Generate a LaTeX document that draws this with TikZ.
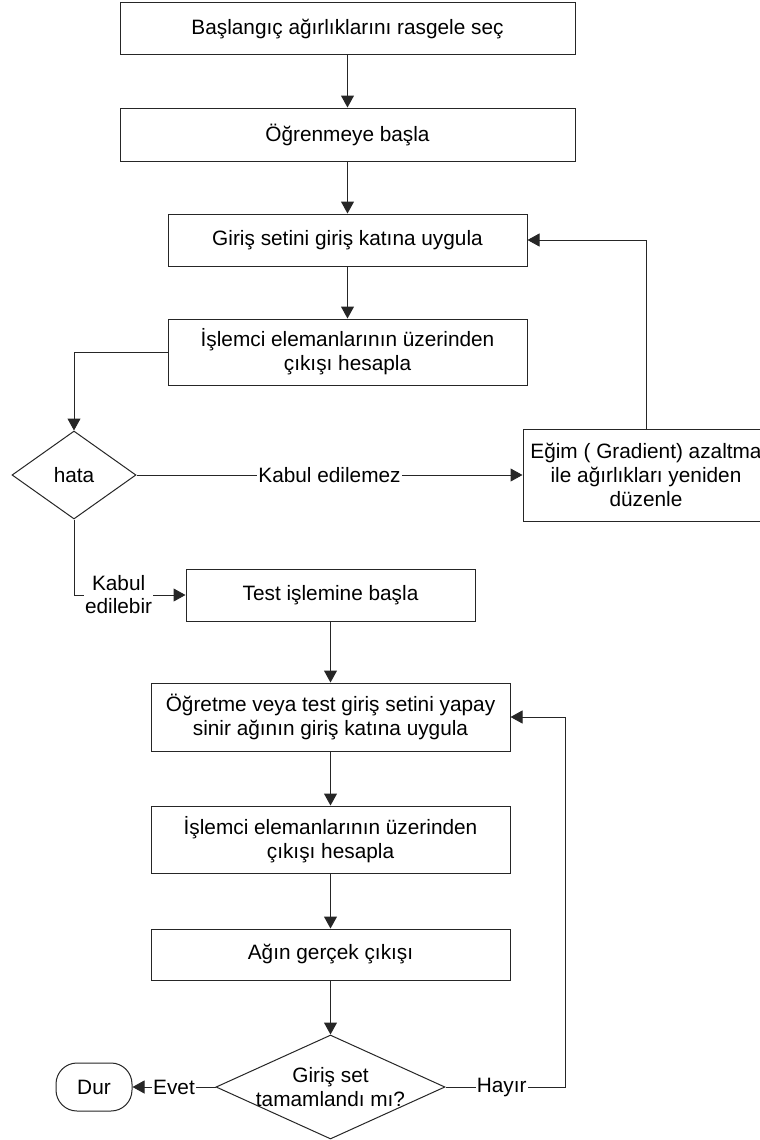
\documentclass[tikz,border=0pt]{standalone}
\usepackage{fontspec}
\setmainfont{Liberation Sans}
\usetikzlibrary{arrows.meta,shapes.geometric}

\tikzset{
  basefont/.style={font=\fontsize{20.8}{24}\selectfont},
  stepbox/.style={draw=black!85, line width=1pt, fill=white, rectangle,
    inner sep=0pt, align=center, basefont},
  decide/.style={draw=black!85, line width=1pt, fill=white, diamond,
    inner sep=0pt, align=center, basefont},
  endbox/.style={draw=black!85, line width=1pt, fill=white, rectangle,
    rounded corners=21pt, inner sep=0pt, basefont},
  flow/.style={draw=black!85, line width=1pt, -{Triangle[length=12pt,width=13pt]}},
  tag/.style={fill=white, inner sep=1pt, align=center, text=black,
    font=\fontsize{20.8}{23}\selectfont}
}

\begin{document}
\begin{tikzpicture}[x=1pt, y=-1pt]
  \useasboundingbox (0,0) rectangle (760,1140);
  \clip (0,0) rectangle (760,1140);
  \fill[white] (0,0) rectangle (760,1140);

  % process steps
  \node[stepbox, minimum width=455pt, minimum height=52pt] (s1) at (347.5,29)
    {Başlangıç ağırlıklarını rasgele seç};
  \node[stepbox, minimum width=455pt, minimum height=53pt] (s2) at (347.5,134.5)
    {Öğrenmeye başla};
  \node[stepbox, minimum width=359pt, minimum height=52pt] (s3) at (347.5,240)
    {Giriş setini giriş katına uygula};
  \node[stepbox, minimum width=359pt, minimum height=66pt] (s4) at (347.5,352)
    {İşlemci elemanlarının üzerinden\\çıkışı hesapla};
  \node[decide, minimum width=124pt, minimum height=88pt] (err) at (74,475) {hata};
  \node[stepbox, minimum width=246pt, minimum height=92pt] (grad) at (646,475)
    {Eğim ( Gradient) azaltma\\ile ağırlıkları yeniden\\düzenle};
  \node[stepbox, minimum width=289pt, minimum height=52pt] (test) at (330.5,595)
    {Test işlemine başla};
  \node[stepbox, minimum width=359pt, minimum height=68pt] (s7) at (330.5,717)
    {Öğretme veya test giriş setini yapay\\sinir ağının giriş katına uygula};
  \node[stepbox, minimum width=359pt, minimum height=67pt] (s8) at (330.5,839.5)
    {İşlemci elemanlarının üzerinden\\çıkışı hesapla};
  \node[stepbox, minimum width=359pt, minimum height=51pt] (s9) at (330.5,954.5)
    {Ağın gerçek çıkışı};
  % the question text runs over the diamond's edges, so it is set as a centred label
  \node[decide, minimum width=229pt, minimum height=104pt,
        label={[basefont, align=center]center:Giriş set\\tamamlandı mı?}]
    (done) at (330.5,1087) {};
  \node[endbox, minimum width=76pt, minimum height=48pt] (stop) at (94,1087) {Dur};
  \coordinate (loop) at (565,1087);

  % connectors
  \draw[flow] (s1) -- (s2);
  \draw[flow] (s2) -- (s3);
  \draw[flow] (s3) -- (s4);
  \draw[flow] (s4.west) -| (err.north);
  \draw[flow] (err.east) -- node[tag, pos=0.5] {Kabul edilemez} (grad.west);
  \draw[flow] (grad.north) |- (s3.east);
  \draw[flow] (err.south) |- node[tag, pos=0.7] {Kabul\\edilebir} (test.west);
  \draw[flow] (test) -- (s7);
  \draw[flow] (s7) -- (s8);
  \draw[flow] (s8) -- (s9);
  \draw[flow] (s9) -- (done);
  \draw[flow] (done.west) -- node[tag, pos=0.5] {Evet} (stop.east);
  \draw[flow] (done.east) -- node[tag, pos=0.47] {Hayır} (loop) |- (s7.east);
\end{tikzpicture}
\end{document}
